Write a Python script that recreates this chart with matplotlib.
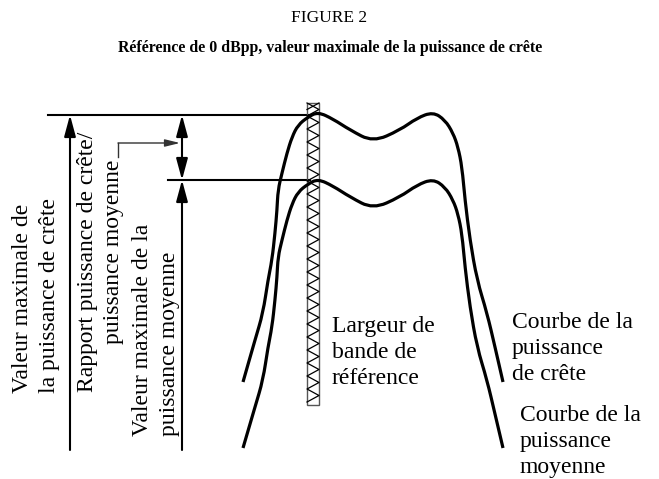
import numpy as np
import matplotlib
matplotlib.use("Agg")
import matplotlib.pyplot as plt
from matplotlib.patches import Rectangle, PathPatch
from matplotlib.path import Path

plt.rcParams['font.family'] = ['Liberation Serif', 'DejaVu Serif']

# curve of the peak power (pixel coords)
peak_x = [243, 255, 263, 268, 272, 275, 277, 278, 282, 287, 292, 298, 308, 318,
          333, 350, 373, 400, 417, 433, 445, 453, 458, 462, 465, 470, 477, 487, 495, 503]
peak_y = [382, 340, 313, 280, 260, 233, 210, 190, 173, 153, 137, 125, 117, 112,
          119, 130, 142, 130, 118, 112, 120, 133, 147, 167, 200, 240, 280, 313, 347, 382]

# curve of the mean power
mean_x = [243, 255, 263, 268, 272, 275, 277, 278, 282, 287, 292, 298, 308, 318,
          333, 350, 373, 400, 417, 433, 445, 453, 458, 462, 465, 470, 477, 487, 495, 503]
mean_y = [448, 407, 380, 347, 327, 300, 277, 257, 240, 220, 204, 192, 184, 179,
          186, 197, 209, 197, 185, 179, 187, 200, 214, 234, 267, 307, 347, 380, 414, 448]

peak_level = 115
mean_level = 180
base_level = 450


def smooth(xs, ys):
    # quadratic bezier through the midpoints of the read points
    pts = np.column_stack([xs, ys]).astype(float)
    verts = [pts[0], (pts[0] + pts[1]) / 2]
    codes = [Path.MOVETO, Path.LINETO]
    for i in range(1, len(pts) - 1):
        verts += [pts[i], (pts[i] + pts[i + 1]) / 2]
        codes += [Path.CURVE3, Path.CURVE3]
    verts.append(pts[-1])
    codes.append(Path.LINETO)
    return Path(verts, codes)


fig = plt.figure(figsize=(6.59, 4.79), dpi=100)
ax = fig.add_axes([0, 0, 1, 1])
ax.set_xlim(0, 659)
ax.set_ylim(479, 0)
ax.axis('off')

# titles
ax.text(329.5, 18, "FIGURE 2", ha='center', va='center', fontsize=12.5)
ax.text(330, 48, "Référence de 0 dBpp, valeur maximale de la puissance de crête",
        ha='center', va='center', fontsize=11.4, fontweight='bold')

# reference bandwidth box with zigzag
bx0, bx1, by0, by1 = 307, 319, 103, 405
ax.add_patch(Rectangle((bx0, by0), bx1 - bx0, by1 - by0, fill=False,
                       edgecolor='#555555', lw=1.0, zorder=2))
step = 6.5
zy = np.arange(by0, by1 + 0.1, step)
zx = np.where(np.arange(len(zy)) % 2 == 0, bx0, bx1)
ax.plot(zx, zy, color='black', lw=0.9, zorder=2)
ax.plot([bx0, bx1], [by0 + step, by0], color='black', lw=0.9, zorder=2)

# curves
for cx, cy in [(peak_x, peak_y), (mean_x, mean_y)]:
    ax.add_patch(PathPatch(smooth(cx, cy), fill=False, edgecolor='black',
                           lw=2.3, joinstyle='round', capstyle='butt', zorder=3))

# reference levels
ax.plot([48, 310], [peak_level, peak_level], color='black', lw=1.5, zorder=1)
ax.plot([168, 310], [mean_level, mean_level], color='black', lw=1.5, zorder=1)

big = dict(arrowstyle='-|>,head_length=1.3,head_width=0.35', mutation_scale=10,
           lw=1.5, color='black', shrinkA=0, shrinkB=0)
ax.annotate('', xy=(70, peak_level), xytext=(70, base_level), arrowprops=big)
ax.annotate('', xy=(182, mean_level), xytext=(182, base_level), arrowprops=big)
dbl = dict(big)
dbl['arrowstyle'] = '<|-|>,head_length=1.3,head_width=0.35'
ax.annotate('', xy=(182, mean_level), xytext=(182, peak_level), arrowprops=dbl)

# leader to the ratio
ax.plot([118, 118], [157, 143], color='#333333', lw=1.0)
small = dict(arrowstyle='-|>,head_length=0.9,head_width=0.22', mutation_scale=10,
             lw=1.0, color='#333333', shrinkA=0, shrinkB=0)
ax.annotate('', xy=(180, 143), xytext=(118, 143), arrowprops=small)

fs = 17
ls = 1.32
# vertical labels
ax.text(36, 393, "Valeur maximale de\nla puissance de crête", rotation=90,
        ha='center', va='bottom', multialignment='left', fontsize=fs,
        linespacing=ls)
ax.text(87, 392, "Rapport puissance de crête/", rotation=90,
        ha='center', va='bottom', fontsize=fs)
ax.text(114, 160, "puissance moyenne", rotation=90,
        ha='center', va='top', fontsize=fs)
ax.text(156, 436, "Valeur maximale de la\npuissance moyenne", rotation=90,
        ha='center', va='bottom', multialignment='left', fontsize=fs,
        linespacing=ls)

# horizontal labels (y = baseline of the last line)
ax.text(332, 384, "Largeur de\nbande de\nréférence", ha='left', va='baseline',
        fontsize=fs, linespacing=ls)
ax.text(512, 380, "Courbe de la\npuissance\nde crête", ha='left', va='baseline',
        fontsize=fs, linespacing=ls)
ax.text(520, 473, "Courbe de la\npuissance\nmoyenne", ha='left', va='baseline',
        fontsize=fs, linespacing=ls)

fig.savefig('out.png', dpi=100)
